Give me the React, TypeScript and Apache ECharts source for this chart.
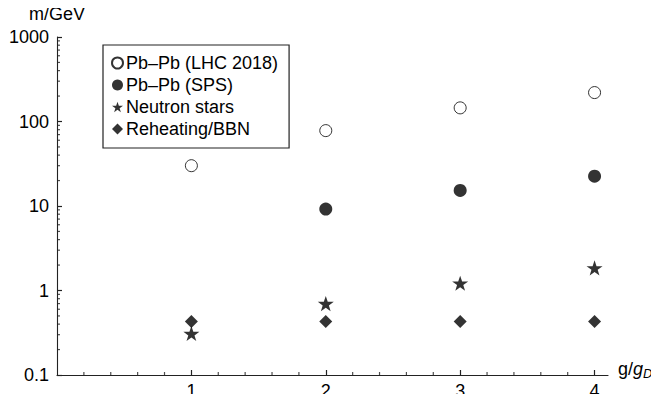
import React, { useEffect, useRef } from "react";
import * as echarts from "echarts";

const xValues = [1, 2, 3, 4];
const lhc2018 = [30, 78, 145, 220];
const spsX = [2, 3, 4];
const sps = [9.2, 15.3, 22.5];
const neutronStars = [0.31, 0.7, 1.22, 1.85];
const reheatingBBN = [0.43, 0.43, 0.43, 0.43];
const yTickLabels = ["0.1", "1", "10", "100", "1000"];
const xTickLabels = ["1", "2", "3", "4"];

const STAR =
  "path://M50,0 L61.8,35.1 L98.1,35.1 L68.7,56.9 L79.4,91.0 L50,70 L20.6,91.0 L31.3,56.9 L1.9,35.1 L38.2,35.1 Z";

const FONT = "'Liberation Sans', Arial, Helvetica, sans-serif";
const INK = "#000";

export default function App() {
  const ref = useRef<HTMLDivElement>(null);
  useEffect(() => {
    if (!ref.current) return;
    const chart = echarts.init(ref.current, undefined, { renderer: "svg" });

    const yMinor: number[][] = [];
    [0.1, 1, 10, 100].forEach((d) => {
      for (let k = 2; k <= 9; k++) yMinor.push([0, +(d * k).toPrecision(3)]);
    });
    const xMinor: number[][] = [];
    for (let i = 1; i <= 20; i++) {
      if (i % 5 !== 0) xMinor.push([+(i * 0.2).toFixed(1), 0.1]);
    }

    const tickSeries = (data: number[][], dir: "x" | "y", len: number) => ({
      type: "scatter",
      silent: true,
      clip: false,
      symbol: "rect",
      symbolSize: dir === "y" ? [len, 1.2] : [1.2, len],
      symbolOffset: dir === "y" ? [len / 2, 0] : [0, -len / 2],
      itemStyle: { color: "#222" },
      data,
      z: 4,
    });

    chart.setOption({
      animation: false,
      backgroundColor: "#fff",
      textStyle: { fontFamily: FONT, color: INK },
      grid: { left: 57, right: 51, top: 37, bottom: 27, outerBoundsMode: "none", containLabel: false },
      legend: {
        orient: "vertical",
        left: 103,
        top: 45,
        padding: [9, 11, 10, 8],
        itemGap: 4,
        itemWidth: 11,
        itemHeight: 11,
        borderColor: "#222",
        borderWidth: 1.2,
        backgroundColor: "#fff",
        textStyle: { fontSize: 18, color: INK, fontFamily: FONT, padding: [0, 0, 0, -2] },
        data: ["Pb–Pb (LHC 2018)", "Pb–Pb (SPS)", "Neutron stars", "Reheating/BBN"],
      },
      xAxis: {
        type: "value",
        min: 0,
        max: 4.1,
        interval: 1,
        name: "{a|g/}{b|g}{c|D}",
        nameLocation: "end",
        nameGap: 10,
        nameTextStyle: {
          padding: [0, 0, 12, 0],
          rich: {
            a: { fontSize: 18, color: INK, fontFamily: FONT },
            b: { fontSize: 18, color: INK, fontFamily: FONT, fontStyle: "italic" },
            c: { fontSize: 13, color: INK, fontFamily: FONT, fontStyle: "italic", padding: [9, 0, 0, 0] },
          },
        },
        axisLine: { lineStyle: { color: "#222", width: 1.1 } },
        axisTick: { show: true, inside: true, length: 5, customValues: xValues, lineStyle: { color: "#222", width: 1.2 } },
        splitLine: { show: false },
        axisLabel: {
          fontSize: 18,
          color: INK,
          margin: 7,
          fontFamily: FONT,
          formatter: (v: number) => (xTickLabels.includes(String(v)) ? String(v) : ""),
        },
      },
      yAxis: {
        type: "log",
        logBase: 10,
        min: 0.1,
        max: 1000,
        name: "m/GeV",
        nameLocation: "end",
        nameGap: 14,
        nameTextStyle: { fontSize: 18, color: INK, fontFamily: FONT },
        axisLine: { show: true, lineStyle: { color: "#222", width: 1.1 } },
        axisTick: { show: true, inside: true, length: 5, lineStyle: { color: "#222", width: 1.2 } },
        splitLine: { show: false },
        axisLabel: {
          fontSize: 18,
          color: INK,
          margin: 8,
          fontFamily: FONT,
          formatter: (v: number) => {
            const s = String(+v.toPrecision(3));
            return yTickLabels.includes(s) ? s : "";
          },
        },
      },
      series: [
        tickSeries(yMinor, "y", 3),
        tickSeries(xMinor, "x", 3),
        {
          name: "Pb–Pb (LHC 2018)",
          type: "scatter",
          symbol: "circle",
          symbolSize: 12,
          itemStyle: { color: "#fff", borderColor: INK, borderWidth: 1 },
          data: xValues.map((x, i) => [x, lhc2018[i]]),
          z: 3,
        },
        {
          name: "Pb–Pb (SPS)",
          type: "scatter",
          symbol: "circle",
          symbolSize: 13,
          itemStyle: { color: INK },
          data: spsX.map((x, i) => [x, sps[i]]),
          z: 3,
        },
        {
          name: "Neutron stars",
          type: "scatter",
          symbol: STAR,
          symbolKeepAspect: true,
          symbolSize: 16,
          itemStyle: { color: INK },
          data: xValues.map((x, i) => [x, neutronStars[i]]),
          z: 3,
        },
        {
          name: "Reheating/BBN",
          type: "scatter",
          symbol: "diamond",
          symbolSize: 13,
          itemStyle: { color: INK },
          data: xValues.map((x, i) => [x, reheatingBBN[i]]),
          z: 3,
        },
      ],
    });
    return () => chart.dispose();
  }, []);
  return <div ref={ref} style={{ width: 659, height: 402, margin: -8 }} />;
}
